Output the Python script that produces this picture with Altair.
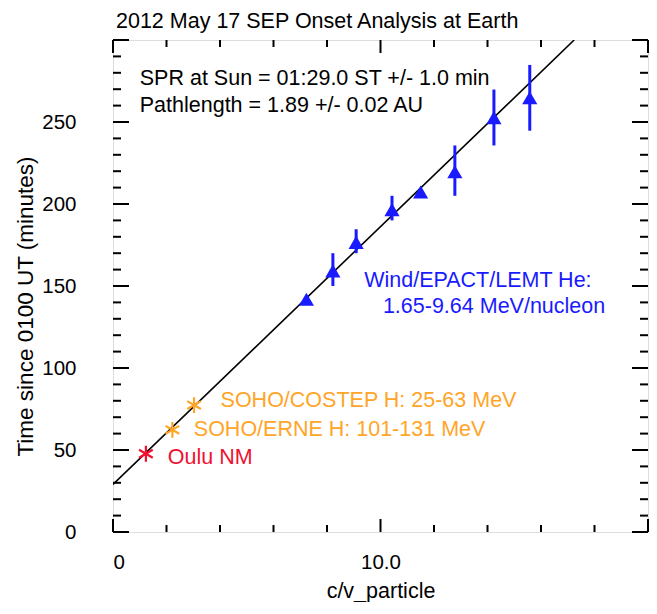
import altair as alt
import pandas as pd

# --- Wind/EPACT/LEMT He onset times (triangles with error bars)
he_x = [7.23, 8.22, 9.09, 10.43, 11.50, 12.78, 14.24, 15.58]
he_t = [141.9, 159.2, 176.6, 196.6, 207.3, 219.7, 252.7, 264.8]
he_lo = [140.8, 150.0, 170.0, 190.0, 204.5, 205.0, 235.7, 244.7]
he_hi = [143.0, 170.0, 184.6, 205.0, 209.6, 235.7, 269.8, 284.8]

# --- other instruments (asterisks)
star_name = ["Oulu NM", "SOHO/ERNE H", "SOHO/COSTEP H"]
star_x = [1.23, 2.22, 3.03]
star_t = [47.7, 62.3, 77.4]
star_col = ["#f01030", "#ffa528", "#ffa528"]

# --- velocity-dispersion fit
spr_onset = 29.0        # minutes after 0100 UT
pathlength_au = 1.89
au_light_min = 8.317
t_top = 300.0

# --- axis ticks
x_major = [0, 10, 20]
x_minor = [2, 4, 6, 8, 12, 14, 16, 18]
y_major = [0, 50, 100, 150, 200, 250, 300]
y_minor = [v for v in range(0, 301, 10) if v % 50 != 0]
y_labels = [0, 50, 100, 150, 200, 250]
x_labels = [0, 10]

# --- texts
title_text = ["2012 May 17 SEP Onset Analysis at Earth"]
ann_text = ["SPR at Sun = 01:29.0 ST +/- 1.0 min", "Pathlength = 1.89 +/- 0.02 AU",
            "Wind/EPACT/LEMT He:", "1.65-9.64 MeV/nucleon",
            "SOHO/COSTEP H: 25-63 MeV", "SOHO/ERNE H: 101-131 MeV", "Oulu NM"]
ann_x = [1.0, 1.0, 9.39, 10.09, 4.02, 3.02, 2.05]
ann_t = [276.0, 259.8, 153.3, 137.1, 80.0, 62.5, 45.1]
ann_col = ["#000000", "#000000", "#1a1aff", "#1a1aff", "#ffa528", "#ffa528", "#f01030"]

W, H = 535, 492
FONT = "Liberation Sans"
FS = 21.5
LFS = 20.5

he = pd.DataFrame({"x": he_x, "t": he_t, "lo": he_lo, "hi": he_hi})
stars = pd.DataFrame({"name": star_name, "x": star_x, "t": star_t, "col": star_col})
slope = pathlength_au * au_light_min
fit_x = [0.0, (t_top - spr_onset) / slope]
fit = pd.DataFrame({"x": fit_x, "t": [spr_onset + slope * v for v in fit_x]})
ann = pd.DataFrame({"text": ann_text, "x": ann_x, "t": ann_t, "col": ann_col})
ttl = pd.DataFrame({"text": title_text})

xs = alt.Scale(domain=[0, 20], nice=False, zero=False)
ys = alt.Scale(domain=[0, 300], nice=False, zero=False)

x_axis = alt.Axis(values=x_labels,
                  labelExpr="datum.value == 0 ? '0' : format(datum.value, '.1f')",
                  ticks=False, domain=False, grid=False,
                  labelPadding=20, labelFontSize=LFS,
                  labelFont=FONT, labelColor="black", title="c/v_particle", titleFont=FONT,
                  titleFontSize=FS, titleFontWeight="normal", titleColor="black",
                  titleX=W / 2, titleY=65, titleBaseline="alphabetic", titleAlign="center")
y_axis = alt.Axis(values=y_labels, ticks=False, domain=False,
                  grid=False, labelPadding=37,
                  labelFontSize=LFS, labelFont=FONT, labelColor="black",
                  title="Time since 0100 UT (minutes)", titleFont=FONT, titleFontSize=22.5,
                  titleFontWeight="normal", titleColor="black", titleX=-88, titleY=266,
                  titleBaseline="middle", titleAlign="center", titleAngle=270)

X = alt.X("x:Q", scale=xs, axis=x_axis)
Y = alt.Y("t:Q", scale=ys, axis=y_axis)

fit_line = alt.Chart(fit).mark_line(color="black", strokeWidth=1.6, clip=True).encode(x=X, y=Y)

errbars = alt.Chart(he).mark_rule(color="#1a1aff", strokeWidth=3).encode(
    x=X, y=alt.Y("lo:Q", scale=ys, axis=y_axis), y2="hi:Q")
tri = alt.Chart(he).mark_point(shape="triangle-up", filled=True, size=230, color="#1a1aff",
                               opacity=1).encode(x=X, y=Y)

asterisk = "M0,-1L0,1M-0.866,-0.5L0.866,0.5M-0.866,0.5L0.866,-0.5"
star = alt.Chart(stars).mark_point(shape=asterisk, filled=False, size=250, strokeWidth=2.2,
                                   opacity=1).encode(
    x=X, y=Y, stroke=alt.Color("col:N", scale=None))

texts = alt.Chart(ann).mark_text(align="left", baseline="middle", font=FONT, fontSize=FS).encode(
    x=X, y=Y, text="text:N", color=alt.Color("col:N", scale=None))

title_mark = alt.Chart(ttl).mark_text(align="left", baseline="alphabetic", font=FONT,
                                      fontSize=FS, color="black").encode(
    x=alt.value(3), y=alt.value(-12), text="text:N")

# inward tick marks on all four sides
xmaj = pd.DataFrame({"x": x_major})
xmin = pd.DataFrame({"x": x_minor})
ymaj = pd.DataFrame({"t": y_major})
ymin = pd.DataFrame({"t": y_minor})


def xticks(df, ln):
    b = alt.Chart(df).mark_rule(color="black", strokeWidth=2).encode(
        x=X, y=alt.value(H), y2=alt.value(H - ln))
    t = alt.Chart(df).mark_rule(color="black", strokeWidth=2).encode(
        x=X, y=alt.value(0), y2=alt.value(ln))
    return b + t


def yticks(df, ln):
    l = alt.Chart(df).mark_rule(color="black", strokeWidth=2).encode(
        y=Y, x=alt.value(0), x2=alt.value(ln))
    r = alt.Chart(df).mark_rule(color="black", strokeWidth=2).encode(
        y=Y, x=alt.value(W), x2=alt.value(W - ln))
    return l + r


chart = alt.layer(
    fit_line, xticks(xmaj, 13), xticks(xmin, 7), yticks(ymaj, 16), yticks(ymin, 8),
    errbars, tri, star, texts, title_mark
).properties(
    width=W, height=H,
    autosize=alt.AutoSizeParams(type="none"),
    padding={"left": 105, "top": 32, "right": 1, "bottom": 70},
).configure_view(
    stroke="black", strokeWidth=2
).configure_axisLeft(
    labelPadding=37, ticks=False
).configure_axisBottom(
    labelPadding=20, ticks=False
).configure(background="white")

chart.save("out.html", embed_options={"renderer": "svg", "actions": False})
